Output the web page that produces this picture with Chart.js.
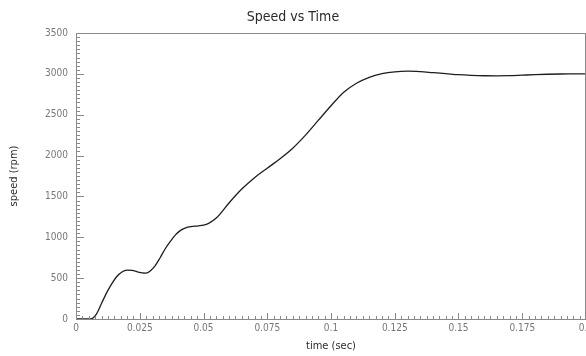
<!DOCTYPE html>
<html>
<head>
<meta charset="utf-8">
<script src="https://cdn.jsdelivr.net/npm/chart.js@4"></script>
<style>
html,body{margin:0;padding:0;background:#fff;}
#wrap{width:586px;height:356px;position:relative;}
</style>
</head>
<body>
<div id="wrap"><canvas id="c" width="586" height="356"></canvas></div>
<script>
const timeSec = [0, 0.005, 0.0065, 0.008, 0.010, 0.012, 0.014, 0.016, 0.018, 0.020, 0.022, 0.024, 0.026, 0.0275, 0.029, 0.031, 0.033, 0.035, 0.037, 0.039, 0.041, 0.043, 0.045, 0.048, 0.050, 0.052, 0.055, 0.060, 0.065, 0.070, 0.075, 0.080, 0.085, 0.090, 0.095, 0.100, 0.105, 0.110, 0.115, 0.120, 0.125, 0.130, 0.135, 0.140, 0.145, 0.150, 0.155, 0.160, 0.165, 0.170, 0.175, 0.180, 0.185, 0.190, 0.195, 0.200];
const speedRpm = [0, 0, 8, 60, 190, 320, 430, 520, 575, 598, 595, 578, 564, 562, 585, 650, 750, 860, 950, 1030, 1085, 1115, 1130, 1140, 1148, 1170, 1235, 1420, 1590, 1730, 1845, 1960, 2090, 2250, 2430, 2610, 2775, 2885, 2958, 3002, 3025, 3033, 3027, 3015, 3003, 2990, 2982, 2977, 2976, 2978, 2984, 2990, 2995, 2998, 2999, 3000];
const xTickValues = [0, 0.025, 0.05, 0.075, 0.1, 0.125, 0.15, 0.175, 0.2];
const xTickLabels = ['0', '0.025', '0.05', '0.075', '0.1', '0.125', '0.15', '0.175', '0.2'];
const yTickValues = [0, 500, 1000, 1500, 2000, 2500, 3000, 3500];
const yTickLabels = ['0', '500', '1000', '1500', '2000', '2500', '3000', '3500'];
const titleText = 'Speed vs Time';
const xTitle = 'time (sec)';
const yTitle = 'speed (rpm)';

const FONT = '"DejaVu Sans Condensed", "Liberation Sans Narrow", "DejaVu Sans", sans-serif';
const AXIS_GRAY = '#8a8a8a';

const framePlugin = {
  id: 'frameTicks',
  afterDraw(chart) {
    const {ctx, chartArea: a, scales: {x, y}} = chart;
    ctx.save();
    ctx.strokeStyle = AXIS_GRAY;
    ctx.lineWidth = 1;
    for (let i = 0; i <= 80; i++) {
      const v = i * 0.0025;
      const px = Math.round(x.getPixelForValue(v)) + 0.5;
      const len = (i % 10 === 0) ? 6 : 3;
      ctx.beginPath();
      ctx.moveTo(px, a.bottom);
      ctx.lineTo(px, a.bottom - len);
      ctx.stroke();
    }
    for (let i = 0; i <= 70; i++) {
      const v = i * 50;
      const py = Math.round(y.getPixelForValue(v)) + 0.5;
      const len = (i % 10 === 0) ? 8 : 4;
      ctx.beginPath();
      ctx.moveTo(a.left, py);
      ctx.lineTo(a.left + len, py);
      ctx.stroke();
    }
    ctx.strokeRect(Math.round(a.left) + 0.5, Math.round(a.top) + 0.5, Math.round(a.right - a.left) - 1, Math.round(a.bottom - a.top));
    ctx.restore();
  }
};

new Chart(document.getElementById('c'), {
  type: 'line',
  data: {
    datasets: [{
      data: timeSec.map((t, i) => ({x: t, y: speedRpm[i]})),
      borderColor: '#1e1e1e',
      borderWidth: 1.3,
      pointRadius: 0,
      cubicInterpolationMode: 'monotone',
      fill: false
    }]
  },
  options: {
    responsive: false,
    animation: false,
    devicePixelRatio: 1,
    layout: {padding: 0},
    plugins: {
      legend: {display: false},
      tooltip: {enabled: false},
      title: {
        display: true,
        text: titleText,
        color: '#2a2a2a',
        font: {family: FONT, size: 14, weight: 'normal', lineHeight: 1.2},
        padding: {top: 8.5, bottom: 7.7}
      }
    },
    scales: {
      x: {
        type: 'linear',
        min: 0, max: 0.2,
        grid: {display: false, drawTicks: false},
        border: {display: false},
        afterBuildTicks(scale) { scale.ticks = xTickValues.map(v => ({value: v})); },
        ticks: {
          autoSkip: false,
          maxRotation: 0,
          padding: 3,
          color: '#777',
          font: {family: FONT, size: 10},
          callback(value) { const i = xTickValues.indexOf(value); return i >= 0 ? xTickLabels[i] : ''; }
        },
        title: {
          display: true, text: xTitle, color: '#2a2a2a',
          font: {family: FONT, size: 11},
          padding: {top: 0, bottom: 3}
        },
        afterFit(scale) { scale.height = 37; scale.paddingLeft = 0; scale.paddingRight = 0; }
      },
      y: {
        type: 'linear',
        min: 0, max: 3500,
        grid: {display: false, drawTicks: false},
        border: {display: false},
        afterBuildTicks(scale) { scale.ticks = yTickValues.map(v => ({value: v})); },
        ticks: {
          autoSkip: false,
          padding: 8,
          color: '#777',
          font: {family: FONT, size: 10},
          callback(value) { const i = yTickValues.indexOf(value); return i >= 0 ? yTickLabels[i] : ''; }
        },
        title: {
          display: true, text: yTitle, color: '#2a2a2a',
          font: {family: FONT, size: 11},
          padding: {top: 8, bottom: 0}
        },
        afterFit(scale) { scale.width = 76; scale.paddingTop = 0; scale.paddingBottom = 0; }
      }
    }
  },
  plugins: [framePlugin]
});
</script>
</body>
</html>
